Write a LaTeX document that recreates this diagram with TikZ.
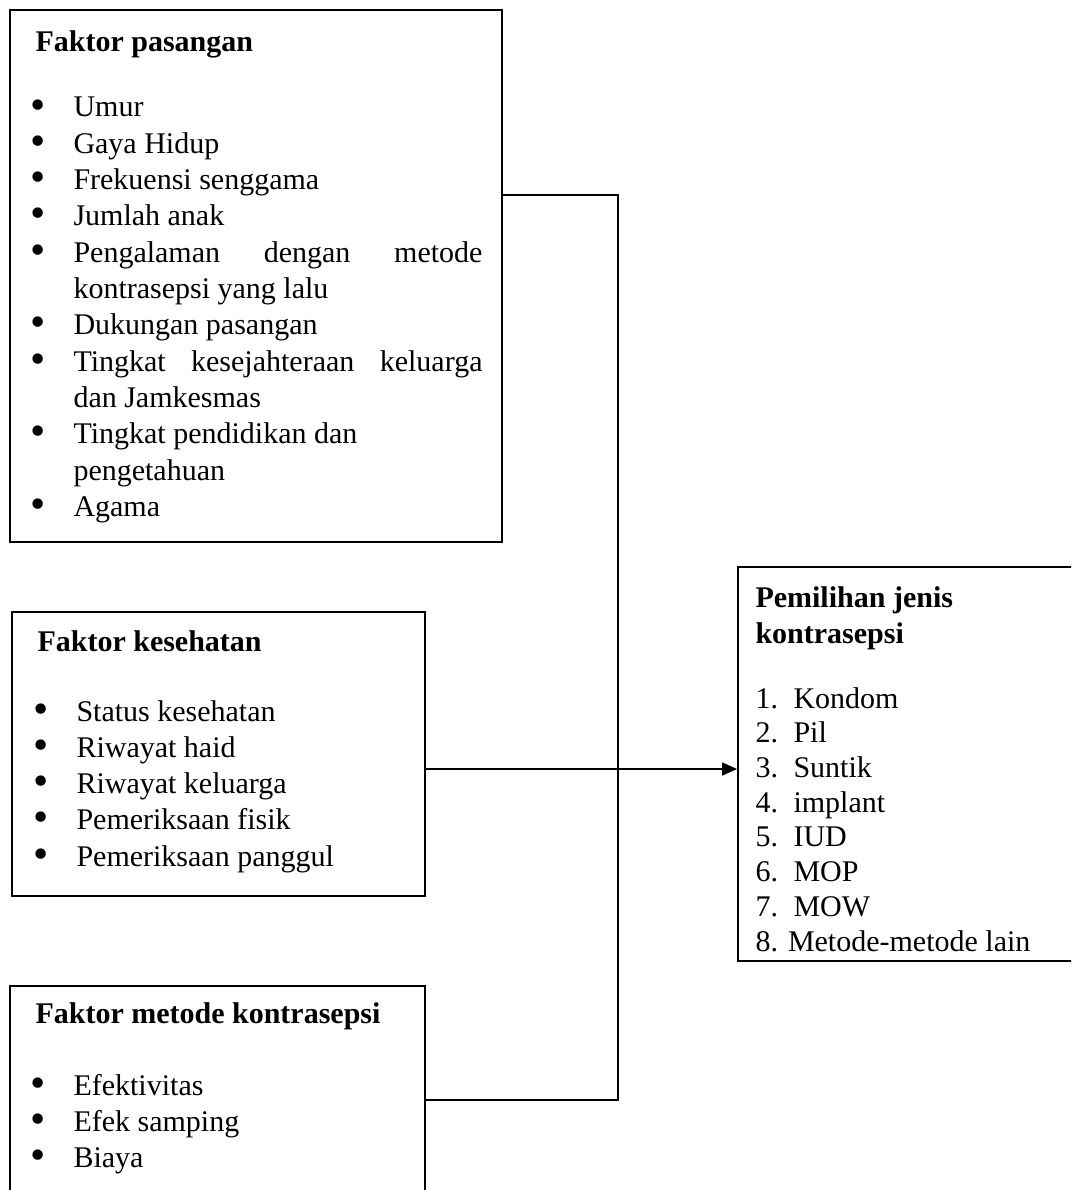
\documentclass[tikz,border=0pt]{standalone}
\usepackage{fontspec}
\setmainfont{Liberation Serif}
\usetikzlibrary{arrows.meta,positioning}

\newcommand{\butir}[1]{\hangindent=17.2pt\hangafter=1\noindent\makebox[17.2pt][l]{\smash{\raisebox{-0.15ex}{\scalebox{1.45}{\textbullet}}}}#1\par}

\begin{document}
\begin{tikzpicture}[x=0.4pt,y=-0.4pt,
  kotak/.style={draw,line width=0.7pt,anchor=north west,inner sep=0pt},
  judul/.style={font=\fontsize{12}{14.4}\selectfont\bfseries,inner sep=0pt,anchor=base west},
  daftar/.style={font=\fontsize{12}{14.52}\selectfont,inner sep=0pt,anchor=base west,text width=#1,align=justify},
  teks/.style={font=\fontsize{12}{14.4}\selectfont,inner sep=0pt,anchor=base west},
  garis/.style={line width=0.7pt}]
\useasboundingbox (0,0) rectangle (1071,1190);
\clip (0,0) rectangle (1071,1190);
% Boxes
\node[kotak,minimum width=196.8pt,minimum height=212.8pt] (pasangan) at (9,9) {};
\node[kotak,minimum width=165.2pt,minimum height=113.6pt] (kesehatan) at (11,611) {};
\node[kotak,minimum width=166pt,minimum height=104pt] (metode) at (9,985) {};
\node[kotak,minimum width=160pt,minimum height=157.6pt] (pilihan) at (737,566) {};
% Faktor pasangan
\node[judul] (jdl1) at (35,52) {Faktor pasangan};
\node[daftar=180.8pt] (isi1) at (30,117) {%
  \butir{Umur}
  \butir{Gaya Hidup}
  \butir{Frekuensi senggama}
  \butir{Jumlah anak}
  \butir{Pengalaman dengan metode\linebreak kontrasepsi yang lalu}
  \butir{Dukungan pasangan}
  \butir{Tingkat kesejahteraan keluarga\linebreak dan Jamkesmas}
  \butir{Tingkat pendidikan dan\newline pengetahuan}
  \butir{Agama}};
% Faktor kesehatan
\node[judul] (jdl2) at (37,651) {Faktor kesehatan};
\node[daftar=150pt] (isi2) at (33,721) {%
  \butir{Status kesehatan}
  \butir{Riwayat haid}
  \butir{Riwayat keluarga}
  \butir{Pemeriksaan fisik}
  \butir{Pemeriksaan panggul}};
% Faktor metode kontrasepsi
\node[judul] (jdl3) at (35,1023) {Faktor metode kontrasepsi};
\node[daftar=150pt] (isi3) at (30,1095) {%
  \butir{Efektivitas}
  \butir{Efek samping}
  \butir{Biaya}};
% Pemilihan jenis kontrasepsi
\node[judul] (jdl4) at (755,607) {Pemilihan jenis};
\node[judul] (jdl5) at (755,643) {kontrasepsi};
\foreach \n/\isi [count=\k from 0] in {1/Kondom,2/Pil,3/Suntik,4/implant,5/IUD,6/MOP,7/MOW} {
  \node[teks] (no\n) at (755,{708+34.7*\k}) {\n.};
  \node[teks] (jk\n) at (793,{708+34.7*\k}) {\isi};
}
\node[teks] (jk8) at (755,951) {8. Metode-metode lain};
% Connectors
\coordinate (j1) at (618,195);
\coordinate (j2) at (618,769);
\coordinate (j3) at (618,1100);
\draw[garis] (pasangan.east |- j1) -- (j1) -- (j3) -- (metode.east |- j3);
\draw[garis,-{Triangle[length=6pt,width=5.2pt]}] (kesehatan.east |- j2) -- (pilihan.west |- j2);
\end{tikzpicture}
\end{document}
